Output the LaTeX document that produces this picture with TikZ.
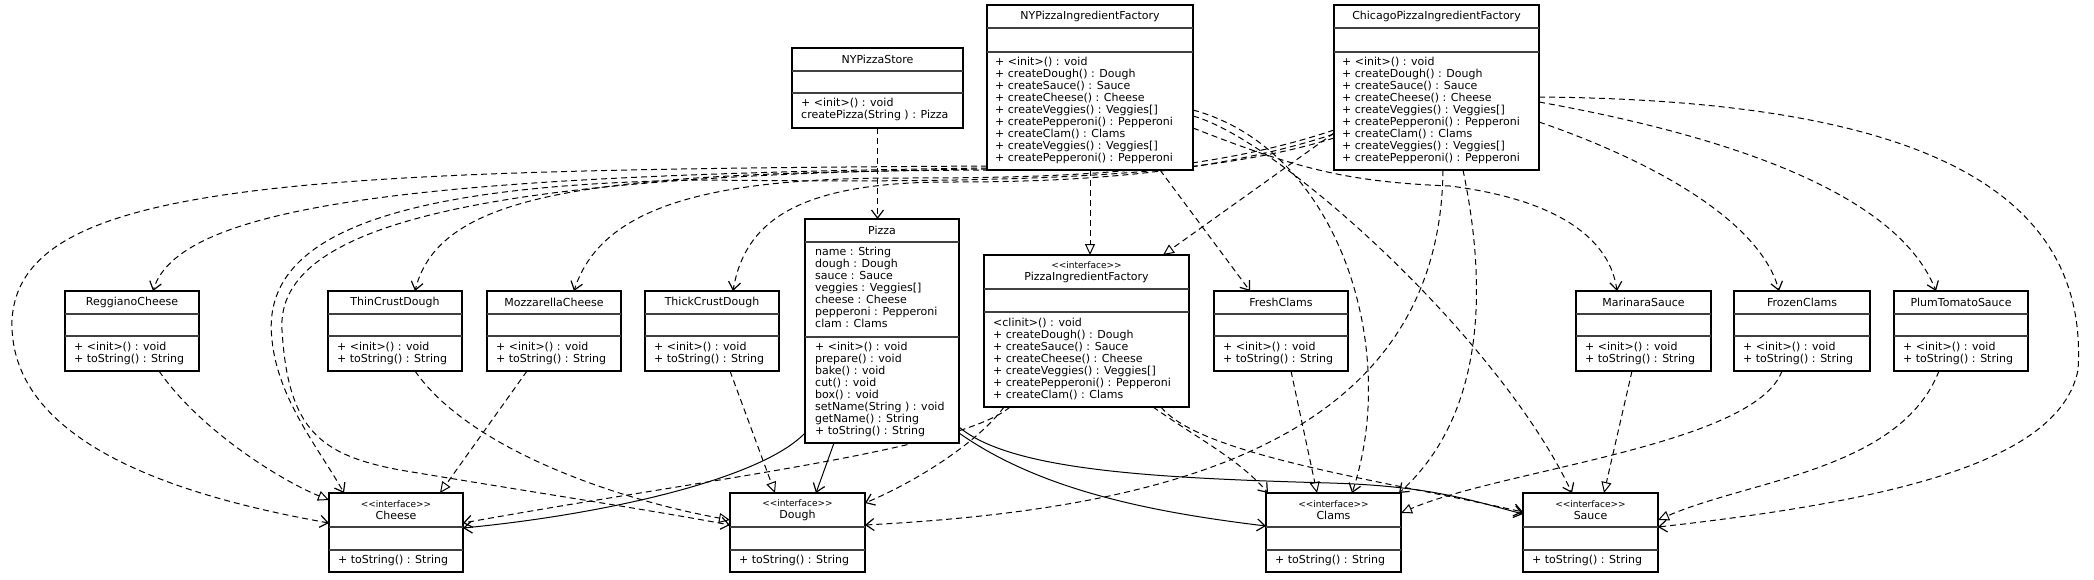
\documentclass[tikz,border=0pt]{standalone}
\usepackage{fontspec}
\setmainfont{DejaVu Sans}
\usetikzlibrary{arrows.meta,calc}
\pgfdeclarelayer{bg}
\pgfsetlayers{bg,main}
\tikzset{
  box/.style={draw=black, line width=1.1pt, fill=white, inner sep=0pt, outer sep=0pt, anchor=north west},
  sepline/.style={draw=black!75, line width=1.6pt},
  ttl/.style={font=\fontsize{11}{12}\selectfont, inner sep=0pt, align=center},
  mem/.style={font=\fontsize{11}{12}\selectfont, inner sep=0pt, align=left, anchor=north west},
  conn/.style={line width=1pt},
  dep/.style={conn, dash pattern=on 6pt off 4pt, -{Straight Barb[length=8pt,width=12pt,line width=1.2pt]}},
  real/.style={conn, dash pattern=on 6pt off 4pt, -{Triangle[open,length=11pt,width=10pt,fill=white,line width=1pt]}},
  assoc/.style={conn, -{Straight Barb[length=8pt,width=12pt,line width=1.2pt]}},
}
\newcommand{\umlbox}[8]{%
  \node[box, minimum width={(#4-(#2))*1pt}, minimum height={(#5-(#3))*1pt}] (#1) at (#2,#3) {};
  \draw[sepline] (#2,#6) -- (#4,#6) (#2,#7) -- (#4,#7);
  \pgfmathsetmacro\tmpcx{(#2+#4)/2}%
  \pgfmathsetmacro\tmpty{(#3+#6)/2}%
  \node[ttl] (#1-title) at (\tmpcx,\tmpty) {#8};
}
\newcommand{\stereo}{{\fontsize{9}{12}\selectfont <{}<interface>{}>}}
\begin{document}
\begin{tikzpicture}[x=1pt,y=-1pt]
\useasboundingbox (0,0) rectangle (2094,579);
% ---------- classes ----------
\umlbox{Store}{792}{48}{963}{128}{71}{93}{NYPizzaStore}
\node[mem] (Store-m) at (801,98) {+ <init>() : void\\createPizza(String ) : Pizza};

\umlbox{NYPIF}{987}{5}{1193}{170}{28}{52}{NYPizzaIngredientFactory}
\node[mem] (NYPIF-m) at (995,57) {+ <init>() : void\\+ createDough() : Dough\\+ createSauce() : Sauce\\+ createCheese() : Cheese\\+ createVeggies() : Veggies[]\\+ createPepperoni() : Pepperoni\\+ createClam() : Clams\\+ createVeggies() : Veggies[]\\+ createPepperoni() : Pepperoni};

\umlbox{ChPIF}{1334}{5}{1539}{170}{28}{52}{ChicagoPizzaIngredientFactory}
\node[mem] (ChPIF-m) at (1342,57) {+ <init>() : void\\+ createDough() : Dough\\+ createSauce() : Sauce\\+ createCheese() : Cheese\\+ createVeggies() : Veggies[]\\+ createPepperoni() : Pepperoni\\+ createClam() : Clams\\+ createVeggies() : Veggies[]\\+ createPepperoni() : Pepperoni};

\umlbox{Pizza}{805}{219}{959}{443}{242}{337}{Pizza}
\node[mem] (Pizza-a) at (815,247) {name : String\\dough : Dough\\sauce : Sauce\\veggies : Veggies[]\\cheese : Cheese\\pepperoni : Pepperoni\\clam : Clams};
\node[mem] (Pizza-m) at (815,342) {+ <init>() : void\\prepare() : void\\bake() : void\\cut() : void\\box() : void\\setName(String ) : void\\getName() : String\\+ toString() : String};

\umlbox{PIF}{984}{255}{1189}{407}{289}{312}{\stereo\\PizzaIngredientFactory}
\node[mem] (PIF-m) at (993,318) {<clinit>() : void\\+ createDough() : Dough\\+ createSauce() : Sauce\\+ createCheese() : Cheese\\+ createVeggies() : Veggies[]\\+ createPepperoni() : Pepperoni\\+ createClam() : Clams};

\umlbox{Reg}{65}{291}{199}{371}{314}{336}{ReggianoCheese}
\node[mem] (Reg-m) at (74,342) {+ <init>() : void\\+ toString() : String};
\umlbox{Thin}{328}{291}{462}{371}{314}{336}{ThinCrustDough}
\node[mem] (Thin-m) at (337,342) {+ <init>() : void\\+ toString() : String};
\umlbox{Mozz}{487}{291}{621}{371}{314}{336}{MozzarellaCheese}
\node[mem] (Mozz-m) at (496,342) {+ <init>() : void\\+ toString() : String};
\umlbox{Thick}{645}{291}{779}{371}{314}{336}{ThickCrustDough}
\node[mem] (Thick-m) at (654,342) {+ <init>() : void\\+ toString() : String};
\umlbox{Fresh}{1214}{291}{1348}{371}{314}{336}{FreshClams}
\node[mem] (Fresh-m) at (1223,342) {+ <init>() : void\\+ toString() : String};
\umlbox{Mar}{1576}{291}{1711}{371}{314}{336}{MarinaraSauce}
\node[mem] (Mar-m) at (1585,342) {+ <init>() : void\\+ toString() : String};
\umlbox{Froz}{1734}{291}{1870}{371}{314}{336}{FrozenClams}
\node[mem] (Froz-m) at (1743,342) {+ <init>() : void\\+ toString() : String};
\umlbox{Plum}{1894}{291}{2028}{371}{314}{336}{PlumTomatoSauce}
\node[mem] (Plum-m) at (1903,342) {+ <init>() : void\\+ toString() : String};

\umlbox{Cheese}{329}{493}{463}{572}{527}{550}{\stereo\\Cheese}
\node[mem] (Cheese-m) at (338,555) {+ toString() : String};
\umlbox{Dough}{730}{493}{865}{572}{527}{550}{\stereo\\Dough}
\node[mem] (Dough-m) at (739,555) {+ toString() : String};
\umlbox{Clams}{1266}{493}{1401}{572}{527}{550}{\stereo\\Clams}
\node[mem] (Clams-m) at (1275,555) {+ toString() : String};
\umlbox{Sauce}{1523}{493}{1658}{572}{527}{550}{\stereo\\Sauce}
\node[mem] (Sauce-m) at (1532,555) {+ toString() : String};

\begin{pgfonlayer}{bg}
\fill[white] (0,0) rectangle (2094,579);
% ---------- realizations ----------
\draw[real] (NYPIF.south) -- (NYPIF.south |- PIF.north);
\draw[real] ($(ChPIF.north west)+(0,128)$) -- ($(PIF.north west)+(179,0)$);
\draw[real] ($(Reg.south west)+(94,0)$) .. controls (200,430) and (280,480) .. ($(Cheese.north west)+(0,7)$);
\draw[real] ($(Mozz.south west)+(40,0)$) -- ($(Cheese.north west)+(111,0)$);
\draw[real] ($(Thin.south west)+(87,0)$) .. controls (470,450) and (620,500) .. ($(Dough.north west)+(0,27)$);
\draw[real] ($(Thick.south west)+(85,0)$) -- ($(Dough.north west)+(45,0)$);
\draw[real] ($(Fresh.south west)+(77,0)$) -- ($(Clams.north west)+(51,0)$);
\draw[real] ($(Mar.south west)+(56,0)$) -- ($(Sauce.north west)+(81,0)$);
\draw[real] ($(Froz.south west)+(48,0)$) .. controls (1755,445) and (1500,470) .. ($(Clams.north east)+(0,20)$);
\draw[real] ($(Plum.south west)+(45,0)$) .. controls (1900,470) and (1750,480) .. ($(Sauce.north east)+(0,27)$);
% ---------- dependencies ----------
\draw[dep] (Store.south) -- (Store.south |- Pizza.north);
\draw[dep] ($(NYPIF.south west)+(0,-2)$) .. controls (450,175) and (180,200) .. ($(Reg.north west)+(88,0)$);
\draw[dep] ($(NYPIF.south west)+(2,0)$) .. controls (600,172) and (440,190) .. ($(Thin.north west)+(87,0)$);
\draw[dep] ($(NYPIF.south west)+(0,-4)$) .. controls (300,170) and (20,180) .. (12,320) .. controls (8,450) and (200,500) .. ($(Cheese.north west)+(0,30)$);
\draw[dep] ($(NYPIF.south west)+(0,-1)$) .. controls (500,175) and (275,220) .. (282,330) .. controls (288,430) and (320,455) .. (400,470) .. controls (550,495) and (650,510) .. ($(Dough.north west)+(0,32)$);
\draw[dep] ($(ChPIF.north west)+(0,125)$) .. controls (1200,175) and (1050,178) .. (900,178) .. controls (700,178) and (600,210) .. ($(Mozz.north west)+(87,0)$);
\draw[dep] ($(ChPIF.north west)+(0,129)$) .. controls (1200,178) and (1050,182) .. (950,182) .. controls (800,182) and (745,220) .. ($(Thick.north west)+(88,0)$);
\draw[dep] ($(ChPIF.north west)+(0,133)$) .. controls (1200,180) and (1000,183) .. (700,180) .. controls (380,185) and (260,240) .. (272,340) .. controls (278,400) and (320,450) .. ($(Cheese.north west)+(15,0)$);
\draw[dep] ($(ChPIF.south west)+(109,0)$) .. controls (1440,450) and (1150,510) .. ($(Dough.north east)+(0,32)$);
\draw[dep] ($(ChPIF.south west)+(129,0)$) .. controls (1490,300) and (1480,420) .. ($(Clams.north east)+(-2,0)$);
\draw[dep] ($(ChPIF.north east)+(0,117)$) .. controls (1650,160) and (1760,220) .. ($(Froz.north west)+(45,0)$);
\draw[dep] ($(ChPIF.north east)+(0,97)$) .. controls (1750,140) and (1900,200) .. ($(Plum.north west)+(42,0)$);
\draw[dep] ($(ChPIF.north east)+(0,92)$) .. controls (1900,100) and (2090,180) .. (2078,370) .. controls (2060,460) and (1900,500) .. ($(Sauce.north east)+(0,34)$);
\draw[dep] ($(NYPIF.north east)+(0,105)$) .. controls (1340,150) and (1400,350) .. ($(Clams.north west)+(86,0)$);
\draw[dep] ($(NYPIF.north east)+(0,111)$) .. controls (1280,140) and (1500,340) .. ($(Sauce.north west)+(49,0)$);
\draw[dep] ($(NYPIF.north east)+(0,123)$) .. controls (1300,170) and (1350,182) .. (1450,186) .. controls (1560,200) and (1610,240) .. ($(Mar.north west)+(41,0)$);
\draw[dep] ($(NYPIF.south east)+(-33,0)$) -- ($(Fresh.north west)+(36,0)$);
\draw[dep] ($(PIF.south west)+(26,0)$) .. controls (960,450) and (700,480) .. ($(Cheese.north east)+(0,30)$);
\draw[dep] ($(PIF.south west)+(20,0)$) .. controls (980,440) and (920,480) .. ($(Dough.north east)+(0,10)$);
\draw[dep] ($(PIF.south east)+(-36,0)$) .. controls (1200,440) and (1240,460) .. ($(Clams.north west)+(2,0)$);
\draw[dep] ($(PIF.south east)+(-28,0)$) .. controls (1200,455) and (1380,480) .. ($(Sauce.north west)+(0,19)$);
% ---------- associations ----------
\draw[assoc] ($(Pizza.south west)+(0,-10)$) .. controls (760,480) and (600,515) .. ($(Cheese.north east)+(0,35)$);
\draw[assoc] ($(Pizza.south west)+(29,0)$) -- ($(Dough.north west)+(86,0)$);
\draw[assoc] ($(Pizza.south east)+(0,-10)$) .. controls (1040,490) and (1150,512) .. ($(Clams.north west)+(0,33)$);
\draw[assoc] ($(Pizza.south east)+(0,-16)$) .. controls (1010,470) and (1150,478) .. (1330,483) .. controls (1430,486) and (1470,500) .. ($(Sauce.north west)+(0,21)$);
\end{pgfonlayer}
\end{tikzpicture}
\end{document}
